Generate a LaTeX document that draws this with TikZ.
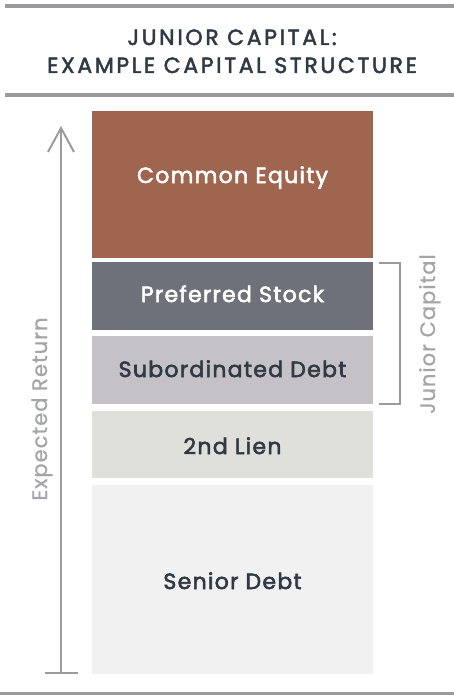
\documentclass[tikz,border=0pt]{standalone}
\usepackage{fontspec}
\setmainfont{Poppins}
\newfontfamily\tierfont{Poppins}[FakeBold=2.6, LetterSpace=6]
\newfontfamily\titlefont{Poppins}[FakeBold=2.2, LetterSpace=12]
\newfontfamily\sidefont{Poppins}[FakeBold=0.8, LetterSpace=5]
\definecolor{rule}{HTML}{9A9B9F}
\definecolor{ink}{HTML}{2F3A45}
\definecolor{ce}{HTML}{A0654E}
\definecolor{ps}{HTML}{6E717A}
\definecolor{sd}{HTML}{C4C2C6}
\definecolor{sl}{HTML}{E0E0DB}
\definecolor{sr}{HTML}{F0F1F0}
\definecolor{side}{HTML}{A4A5A9}
\tikzset{
  tier/.style={anchor=north west, minimum width=281pt, inner sep=0pt},
  tiertext/.style={anchor=base, inner sep=0pt, font=\tierfont\fontsize{22}{26}\selectfont},
  titletext/.style={anchor=base, inner sep=0pt, text=ink, font=\titlefont\fontsize{22}{26}\selectfont},
  hrule/.style={draw=rule, line width=4pt},
  guide/.style={draw=rule, line width=2pt},
  sidelabel/.style={anchor=base, inner sep=0pt, text=side, font=\sidefont\fontsize{21}{24}\selectfont, rotate=90}
}
\begin{document}
\begin{tikzpicture}[x=1pt,y=-1pt]
\useasboundingbox (0,0) rectangle (454,695);
% rules
\coordinate (r1a) at (5,6); \coordinate (r1b) at (454,6);
\coordinate (r2a) at (5,95); \coordinate (r2b) at (454,95);
\coordinate (r3a) at (0,693.5); \coordinate (r3b) at (454,693.5);
\draw[hrule] (r1a) -- (r1b);
\draw[hrule] (r2a) -- (r2b);
\draw[hrule, line width=3pt] (r3a) -- (r3b);
% title
\node[titletext] (title1) at (232,45) {JUNIOR CAPITAL:};
\node[titletext] (title2) at (232,73) {EXAMPLE CAPITAL STRUCTURE};
% tiers
\node[tier, fill=ce, minimum height=147pt] (ce) at (92,111) {};
\node[tier, fill=ps, minimum height=68pt] (ps) at (92,262) {};
\node[tier, fill=sd, minimum height=68pt] (sd) at (92,336) {};
\node[tier, fill=sl, minimum height=67pt] (sl) at (92,411) {};
\node[tier, fill=sr, minimum height=189pt] (sr) at (92,485) {};
\node[tiertext, text=white] (cet) at (232.5,183) {Common Equity};
\node[tiertext, text=white] (pst) at (232.5,302) {Preferred Stock};
\node[tiertext, text=ink] (sdt) at (232.5,377) {Subordinated Debt};
\node[tiertext, text=ink] (slt) at (232.5,454) {2nd Lien};
\node[tiertext, text=ink] (srt) at (232.5,589) {Senior Debt};
% expected return arrow
\coordinate (atip) at (61,128);
\coordinate (abot) at (61,673);
\coordinate (awl) at (48,152);
\coordinate (awr) at (74,152);
\coordinate (bl) at (45,673);
\coordinate (br) at (78,673);
\draw[guide] (abot) -- (atip);
\draw[guide, line join=miter] (awl) -- (atip) -- (awr);
\draw[guide] (bl) -- (br);
\node[sidelabel] (er) at (47,409) {Expected Return};
% junior capital bracket
\coordinate (b1) at (379,263);
\coordinate (b2) at (400,263);
\coordinate (b3) at (400,404);
\coordinate (b4) at (379,404);
\draw[guide] (b1) -- (b2) -- (b3) -- (b4);
\node[sidelabel] (jc) at (435,334) {Junior Capital};
\end{tikzpicture}
\end{document}
